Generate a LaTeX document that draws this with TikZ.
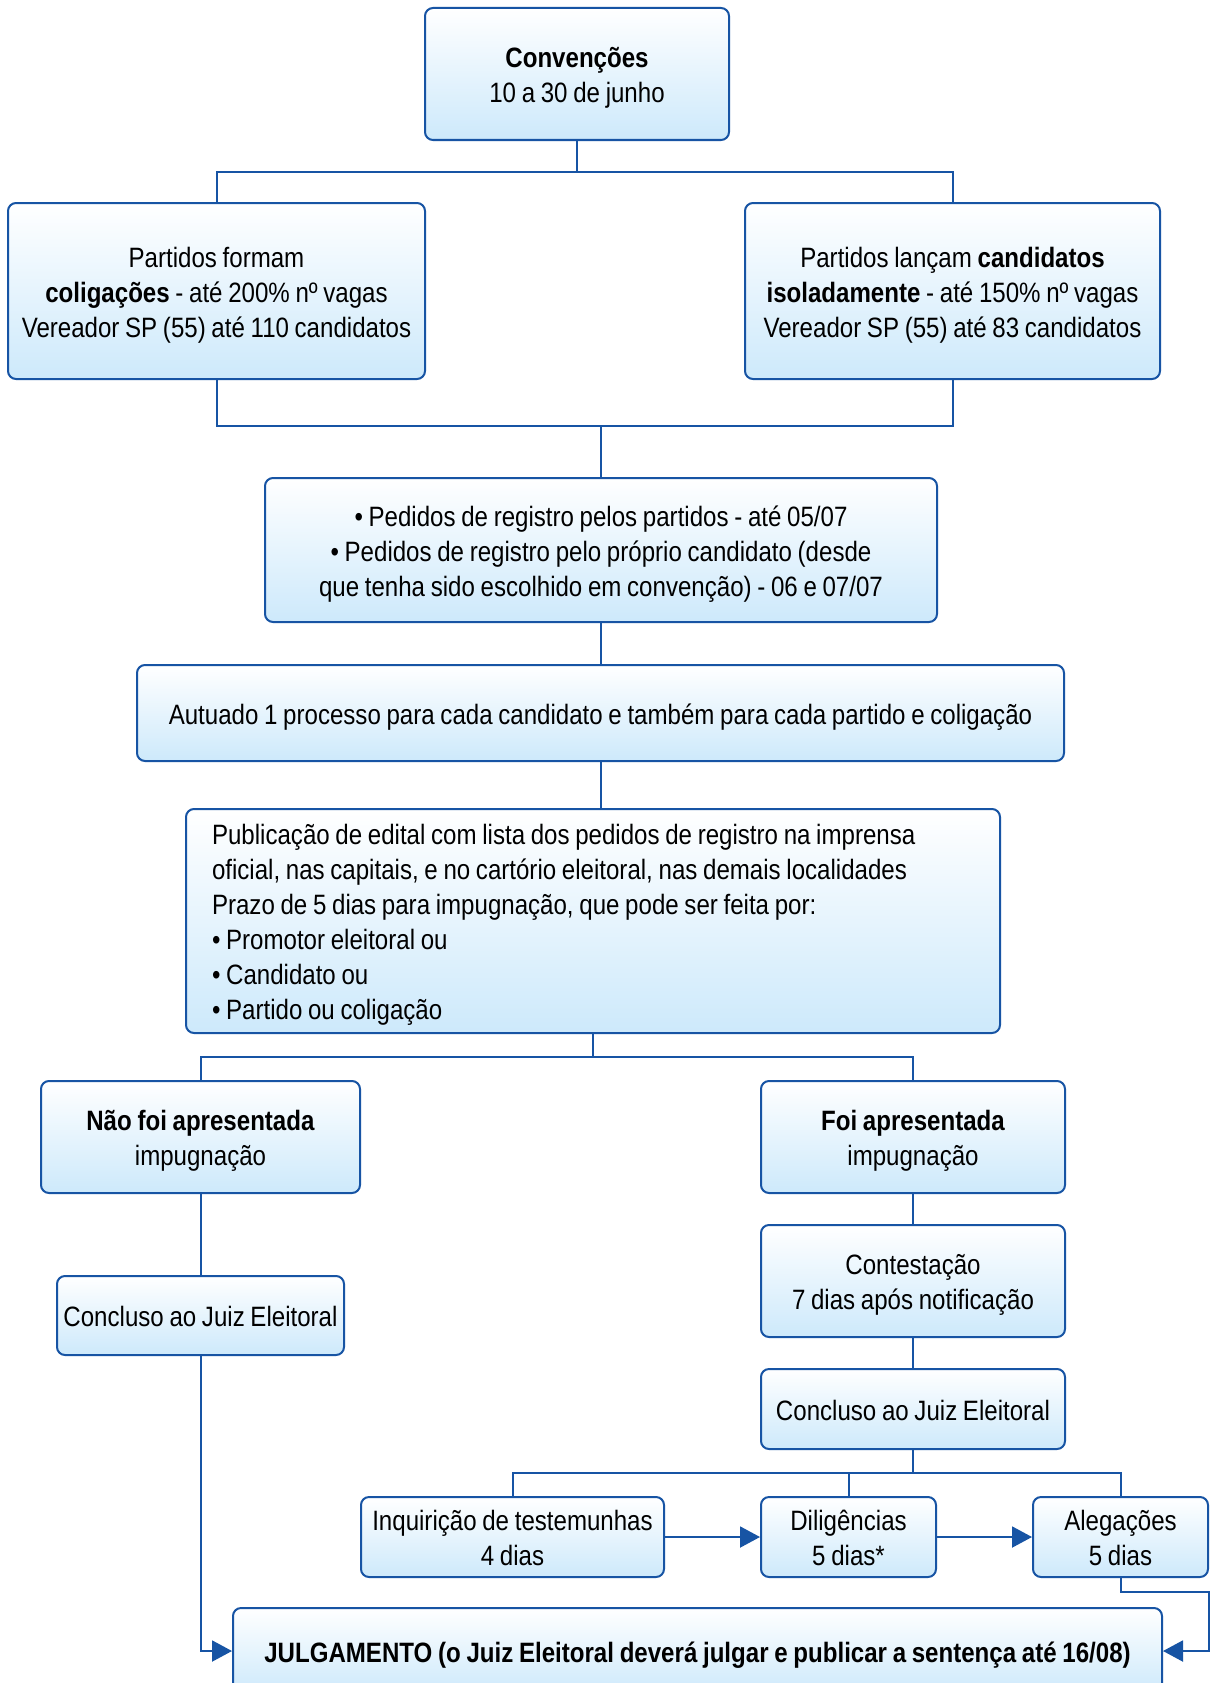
\documentclass[tikz,border=0pt]{standalone}
\usepackage{fontspec}
\setmainfont{Liberation Sans}[FakeStretch=0.86,WordSpace=0.85]
\usetikzlibrary{arrows.meta,calc}
\definecolor{azul}{RGB}{23,84,164}
\definecolor{azulclaro}{RGB}{205,233,251}
\tikzset{
  caixa/.style={draw=azul, line width=2pt, rounded corners=8pt, top color=white, bottom color=azulclaro,
    align=center, inner sep=0pt, font=\fontsize{28}{35}\selectfont},
  liga/.style={draw=azul, line width=2pt},
  seta/.style={liga, -{Triangle[length=20pt,width=21pt]}}
}
\def\topo{\vrule width 0pt height 28pt depth 0pt\relax}
\def\fundo{\vrule width 0pt height 0pt depth 6pt\relax}
\def\caixa(#1,#2,#3,#4,#5,#6){
  \node[caixa, minimum width=#4pt, minimum height=#5pt] (#1) at (#2,#3) {\topo#6\fundo};
}
\begin{document}
\begin{tikzpicture}[x=1pt,y=-1pt]
\clip (0,0) rectangle (1218,1683);
\fill[white] (0,0) rectangle (1218,1683);
\caixa(conv,577,74,304,132,{\textbf{Convenções}\\10 a 30 de junho})
\caixa(colig,216.5,291,417,176,{Partidos formam\\\textbf{coligações} - até 200\% nº vagas\\Vereador SP (55) até 110 candidatos})
\caixa(isol,952.5,291,415,176,{Partidos lançam \textbf{candidatos}\\\textbf{isoladamente} - até 150\% nº vagas\\Vereador SP (55) até 83 candidatos})
\caixa(pedidos,601,550,672,144,{• Pedidos de registro pelos partidos - até 05/07\\• Pedidos de registro pelo próprio candidato (desde\\que tenha sido escolhido em convenção) - 06 e 07/07})
\caixa(autuado,600.5,713,927,96,{Autuado 1 processo para cada candidato e também para cada partido e coligação})
\node[caixa, align=flush left, text width=762pt, minimum width=814pt, minimum height=224pt] (public) at (593,921)
  {\topo Publicação de edital com lista dos pedidos de registro na imprensa\\oficial, nas capitais, e no cartório eleitoral, nas demais localidades\\Prazo de 5 dias para impugnação, que pode ser feita por:\\• Promotor eleitoral ou\\• Candidato ou\\• Partido ou coligação\fundo};
\caixa(naofoi,200.5,1137,319,112,{\textbf{Não foi apresentada}\\impugnação})
\caixa(concl1,200.5,1315.5,287,79,{Concluso ao Juiz Eleitoral})
\caixa(foi,913,1137,304,112,{\textbf{Foi apresentada}\\impugnação})
\caixa(contest,913,1281,304,112,{Contestação\\7 dias após notificação})
\caixa(concl2,913,1409,304,80,{Concluso ao Juiz Eleitoral})
\caixa(inquir,512.5,1537,303,80,{Inquirição de testemunhas\\4 dias})
\caixa(dilig,848.5,1537,175,80,{Diligências\\5 dias*})
\caixa(aleg,1120.5,1537,175,80,{Alegações\\5 dias})
\caixa(julg,697.5,1651,929,86,{\textbf{JULGAMENTO (o Juiz Eleitoral deverá julgar e publicar a sentença até 16/08)}})

\coordinate (j1) at (577,172);
\coordinate (j2) at (601,426);
\coordinate (j3) at (593,1057);
\coordinate (j4) at (913,1473);
\coordinate (k) at (1209,1592);
\draw[liga] (conv.south) -- (j1) -| (colig.north);
\draw[liga] (j1) -| (isol.north);
\draw[liga] (colig.south) |- (j2) -| (isol.south);
\draw[liga] (j2) -- (pedidos.north);
\draw[liga] (pedidos.south) -- (pedidos.south |- autuado.north);
\draw[liga] (autuado.south) -- (autuado.south |- public.north);
\draw[liga] (public.south) -- (j3) -| (naofoi.north);
\draw[liga] (j3) -| (foi.north);
\draw[liga] (naofoi.south) -- (concl1.north);
\draw[seta] (concl1.south) |- (julg.west);
\draw[liga] (foi.south) -- (contest.north);
\draw[liga] (contest.south) -- (concl2.north);
\draw[liga] (concl2.south) -- (j4) -| (inquir.north);
\draw[liga] (j4) -| (aleg.north);
\draw[liga] (dilig.north) -- (dilig.north |- j4);
\draw[seta] (inquir.east) -- (dilig.west);
\draw[seta] (dilig.east) -- (aleg.west);
\draw[seta] (aleg.south) |- (k) |- (julg.east);
\end{tikzpicture}
\end{document}
